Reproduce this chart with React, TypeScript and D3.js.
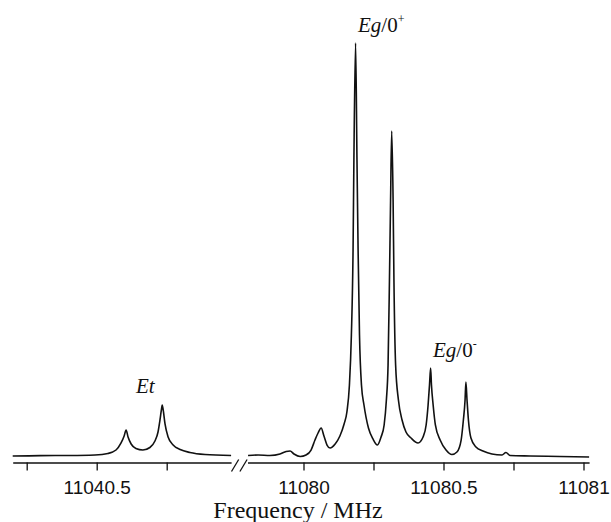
import React, { useEffect, useRef } from 'react';
import * as d3 from 'd3';

// spectrum: [frequency MHz, intensity % of strongest line]
const etTrace: [number, number][] = [
  [11040.2, 0], [11040.298, 0.1], [11040.405, 0.12], [11040.494, 0.24],
  [11040.54, 0.61], [11040.569, 1.45], [11040.587, 3.15], [11040.598, 4.84],
  [11040.605, 6.3], [11040.612, 4.6], [11040.623, 2.91], [11040.64, 1.82],
  [11040.665, 1.45], [11040.69, 2.06], [11040.708, 3.63], [11040.719, 5.81],
  [11040.726, 8.72], [11040.731, 11.14], [11040.734, 12.35], [11040.738, 10.9],
  [11040.744, 7.75], [11040.755, 4.6], [11040.773, 2.66], [11040.798, 1.57],
  [11040.833, 0.85], [11040.887, 0.36], [11040.98, 0.12],
];

const egTrace: [number, number][] = [
  [11079.802, 0.12], [11079.838, 0.24], [11079.88, 0.12], [11079.916, 0.48],
  [11079.938, 1.09], [11079.952, 1.21], [11079.966, 0.48], [11079.988, -0.12],
  [11080.009, 0.24], [11080.027, 1.45], [11080.041, 3.87], [11080.052, 5.57],
  [11080.063, 6.78], [11080.073, 4.84], [11080.084, 2.66], [11080.095, 1.94],
  [11080.113, 2.91], [11080.13, 4.84], [11080.145, 7.75], [11080.155, 10.65],
  [11080.164, 17.2], [11080.171, 29.3], [11080.177, 49.9], [11080.18, 71.7],
  [11080.186, 100], [11080.191, 71.7], [11080.195, 49.9], [11080.2, 29.3],
  [11080.207, 17.2], [11080.216, 12.35], [11080.232, 6.78], [11080.248, 4.12],
  [11080.264, 2.66], [11080.277, 4.6], [11080.288, 7.51], [11080.296, 13.56],
  [11080.302, 22.0], [11080.307, 42.6], [11080.311, 62.0], [11080.315, 78.7],
  [11080.32, 62.0], [11080.323, 42.6], [11080.329, 22.0], [11080.339, 13.56],
  [11080.352, 8.72], [11080.366, 5.81], [11080.384, 4.36], [11080.409, 3.15],
  [11080.427, 4.6], [11080.438, 7.51], [11080.445, 12.35], [11080.45, 17.2],
  [11080.454, 21.3], [11080.457, 17.2], [11080.463, 12.35], [11080.471, 7.51],
  [11080.488, 3.87], [11080.509, 1.45], [11080.53, 0.36], [11080.548, 0.97],
  [11080.563, 3.87], [11080.571, 8.72], [11080.577, 13.56], [11080.58, 17.9],
  [11080.584, 13.56], [11080.589, 8.72], [11080.598, 4.36], [11080.616, 2.18],
  [11080.641, 1.21], [11080.673, 0.48], [11080.709, 0.24], [11080.723, 0.85],
  [11080.738, 0.12], [11080.809, 0], [11080.916, -0.12], [11081.02, -0.24],
];

const etMajor = [11040.5];
const etMinor = [11040.25, 11040.75];
const egMajor = [11080, 11080.5, 11081];
const egMinor = [11080.25, 11080.75];

const sans = '"Liberation Sans", Arial, sans-serif';
const serif = '"Liberation Serif", "Times New Roman", serif';

const App = () => {
  const svgRef = useRef<SVGSVGElement>(null);

  useEffect(() => {
    const svg = d3.select(svgRef.current);
    svg.selectAll('*').remove();

    const pxPerMHz = 280;
    const axisY = 462.5;

    const xLeft = d3.scaleLinear()
      .domain([11040.2, 11040.98])
      .range([12.7, 12.7 + 0.78 * pxPerMHz]);
    const xRight = d3.scaleLinear()
      .domain([11079.8, 11081.02])
      .range([247.5, 247.5 + 1.22 * pxPerMHz]);
    const y = d3.scaleLinear().domain([0, 100]).range([456, 43]);

    const drawTrace = (data, x) => {
      const line = d3.line<[number, number]>()
        .x(d => x(d[0]))
        .y(d => y(d[1]))
        .curve(d3.curveMonotoneX);
      svg.append('path')
        .datum(data)
        .attr('fill', 'none')
        .attr('stroke', '#111')
        .attr('stroke-width', 1.6)
        .attr('stroke-linejoin', 'round')
        .attr('d', line);
    };
    drawTrace(etTrace, xLeft);
    drawTrace(egTrace, xRight);

    const drawAxis = (x, major, minor) => {
      const axis = d3.axisBottom(x)
        .tickValues([...minor, ...major].sort((a, b) => a - b))
        .tickSize(8)
        .tickSizeOuter(0)
        .tickPadding(10.5)
        .tickFormat(d => (major.includes(+d) ? String(d) : ''));
      const g = svg.append('g')
        .attr('transform', `translate(0,${axisY})`)
        .call(axis);
      g.select('.domain').attr('stroke', '#111').attr('stroke-width', 1.4);
      g.selectAll('.tick line').attr('stroke', '#111').attr('stroke-width', 1.3);
      g.selectAll('.tick text')
        .attr('fill', '#111')
        .style('font-family', sans)
        .style('font-size', '19px');
    };
    drawAxis(xLeft, etMajor, etMinor);
    drawAxis(xRight, egMajor, egMinor);

    // axis break marks
    const breakX = (xLeft.range()[1] + xRight.range()[0]) / 2;
    [-4.2, 4.2].forEach(off => {
      svg.append('line')
        .attr('x1', breakX + off - 3.6).attr('y1', axisY + 9)
        .attr('x2', breakX + off + 3.6).attr('y2', axisY - 3)
        .attr('stroke', '#111')
        .attr('stroke-width', 1.3);
    });

    svg.append('text')
      .attr('x', 298).attr('y', 517.5)
      .attr('text-anchor', 'middle')
      .style('font-family', serif)
      .style('font-size', '24px')
      .attr('fill', '#111')
      .text('Frequency / MHz');

    const label = (lx, ly, main, sup) => {
      const t = svg.append('text')
        .attr('x', lx).attr('y', ly)
        .style('font-family', serif)
        .style('font-size', '21px')
        .attr('fill', '#111');
      t.append('tspan').style('font-style', 'italic').text(main[0]);
      if (main[1]) t.append('tspan').text(main[1]);
      if (sup) t.append('tspan').attr('dy', -9).style('font-size', '12px').text(sup);
    };
    label(136, 393, ['Et', ''], '');
    label(358, 32, ['Eg', '/0'], '+');
    label(433, 357, ['Eg', '/0'], '-');
  }, []);

  return (
    <svg
      ref={svgRef}
      width={611}
      height={522}
      style={{ position: 'absolute', left: 0, top: 0, background: '#fff' }}
    />
  );
};

export default App;
